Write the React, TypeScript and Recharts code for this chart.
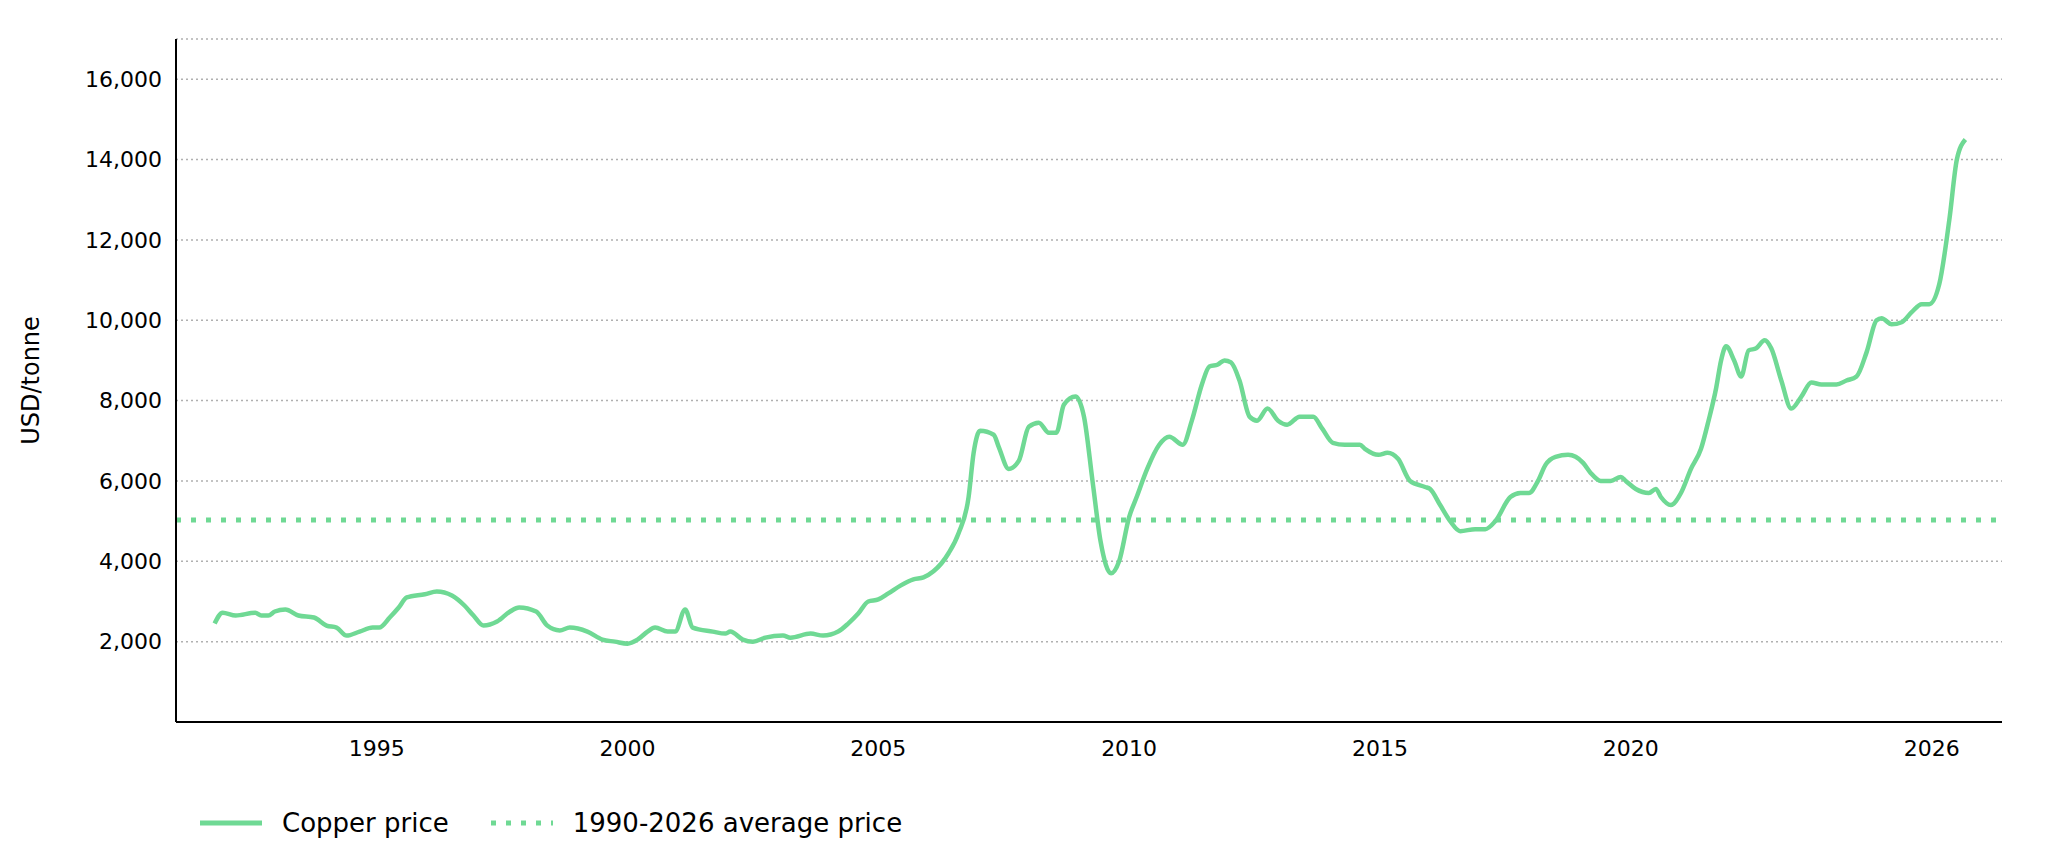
import React from "react";
import { LineChart, Line, XAxis, YAxis, CartesianGrid, ReferenceLine } from "recharts";

const years = [1991.77,1991.93,1992.19,1992.58,1992.7,1992.84,1992.97,1993.18,1993.44,1993.75,1994.0,1994.2,1994.4,1994.66,1994.92,1995.05,1995.26,1995.44,1995.6,1995.96,1996.2,1996.5,1996.75,1996.93,1997.13,1997.4,1997.66,1997.84,1998.18,1998.4,1998.65,1998.85,1999.2,1999.5,1999.75,2000.0,2000.2,2000.4,2000.55,2000.8,2000.95,2001.15,2001.3,2001.7,2001.95,2002.05,2002.3,2002.5,2002.75,2003.1,2003.25,2003.65,2003.9,2004.2,2004.4,2004.6,2004.8,2005.0,2005.2,2005.45,2005.7,2005.9,2006.1,2006.4,2006.6,2006.8,2006.9,2007.03,2007.3,2007.4,2007.6,2007.8,2008.0,2008.2,2008.4,2008.55,2008.7,2008.93,2009.1,2009.27,2009.43,2009.64,2009.8,2010.0,2010.15,2010.36,2010.6,2010.8,2011.07,2011.25,2011.45,2011.6,2011.77,2011.9,2012.03,2012.2,2012.4,2012.55,2012.76,2012.97,2013.15,2013.4,2013.67,2013.85,2014.06,2014.3,2014.6,2014.7,2014.97,2015.15,2015.36,2015.6,2015.9,2016.0,2016.2,2016.4,2016.6,2016.9,2017.1,2017.3,2017.6,2017.8,2017.97,2018.15,2018.3,2018.5,2018.75,2018.9,2019.05,2019.2,2019.4,2019.6,2019.8,2019.9,2020.1,2020.36,2020.5,2020.6,2020.8,2021.0,2021.2,2021.4,2021.55,2021.7,2021.8,2021.9,2022.06,2022.2,2022.35,2022.5,2022.67,2022.8,2023.0,2023.2,2023.4,2023.6,2023.8,2024.1,2024.3,2024.5,2024.7,2024.9,2025.0,2025.2,2025.4,2025.6,2025.8,2025.95,2026.15,2026.35,2026.5,2026.67];
const prices = [2450,2720,2650,2720,2650,2650,2750,2800,2650,2600,2400,2350,2150,2250,2350,2350,2600,2850,3100,3180,3250,3150,2900,2650,2400,2500,2750,2850,2750,2400,2280,2350,2250,2050,2000,1950,2050,2250,2350,2250,2250,2800,2350,2250,2200,2250,2050,2000,2100,2150,2100,2200,2150,2250,2450,2700,3000,3050,3200,3400,3550,3600,3750,4200,4700,5600,6700,7250,7150,6850,6300,6500,7350,7450,7200,7200,7900,8100,7600,6000,4500,3700,4000,5100,5600,6300,6900,7100,6900,7500,8400,8850,8900,9000,8950,8500,7600,7500,7800,7500,7400,7600,7600,7300,6950,6900,6900,6800,6650,6700,6550,6000,5850,5800,5400,5000,4750,4800,4800,5000,5600,5700,5700,6000,6400,6600,6650,6600,6450,6200,6000,6000,6100,6000,5800,5700,5800,5600,5400,5700,6300,6800,7500,8300,9000,9350,9000,8600,9250,9300,9500,9300,8500,7800,8100,8450,8400,8400,8500,8600,9200,10000,10050,9900,9950,10200,10400,10400,10900,12500,14000,14500];
const averagePrice = 5030;
const xTicks = [1995, 2000, 2005, 2010, 2015, 2020, 2026];
const yTicks = [2000, 4000, 6000, 8000, 10000, 12000, 14000, 16000];

const data = years.map((t, i) => ({ t, price: prices[i] }));
const GREEN = "#6fd994";
const font = "DejaVu Sans, sans-serif";

export default function App() {
  return (
    <div style={{ position: "relative", width: 2032, height: 843, fontFamily: font }}>
      <LineChart width={2032} height={843} data={data} margin={{ top: 31, right: 38, left: 18, bottom: 89 }}>
        <CartesianGrid horizontal vertical={false} stroke="#b0b0b0" strokeDasharray="2 3" strokeWidth={1.5} />
        <XAxis dataKey="t" type="number" domain={[1991, 2027.4]} ticks={xTicks} tickLine={false}
          axisLine={{ stroke: "#000", strokeWidth: 2 }} tick={{ fill: "#000", fontSize: 22, fontFamily: font }}
          tickMargin={12} height={40} allowDataOverflow />
        <YAxis type="number" domain={[0, 17000]} ticks={yTicks} tickLine={false} width={150}
          axisLine={{ stroke: "#000", strokeWidth: 2 }} tick={{ fill: "#000", fontSize: 22, fontFamily: font }}
          tickFormatter={(v: number) => v.toLocaleString("en-US")} tickMargin={8}
          label={{ value: "USD/tonne", angle: -90, position: "insideLeft", offset: 4, style: { fill: "#000", fontSize: 24, fontFamily: font, textAnchor: "middle" } }} />
        <ReferenceLine y={averagePrice} stroke={GREEN} strokeWidth={5} strokeDasharray="5 10" />
        <Line type="monotone" dataKey="price" stroke={GREEN} strokeWidth={4.5} dot={false} isAnimationActive={false} />
      </LineChart>
      <div style={{ position: "absolute", left: 190, top: 800, display: "flex", alignItems: "center", fontSize: 26, color: "#000" }}>
        <svg width={66} height={10}><line x1={2} y1={5} x2={64} y2={5} stroke={GREEN} strokeWidth={5} /></svg>
        <span style={{ marginLeft: 18 }}>Copper price</span>
        <svg width={66} height={10} style={{ marginLeft: 40 }}><line x1={2} y1={5} x2={64} y2={5} stroke={GREEN} strokeWidth={5} strokeDasharray="5 10" /></svg>
        <span style={{ marginLeft: 18 }}>1990-2026 average price</span>
      </div>
    </div>
  );
}
